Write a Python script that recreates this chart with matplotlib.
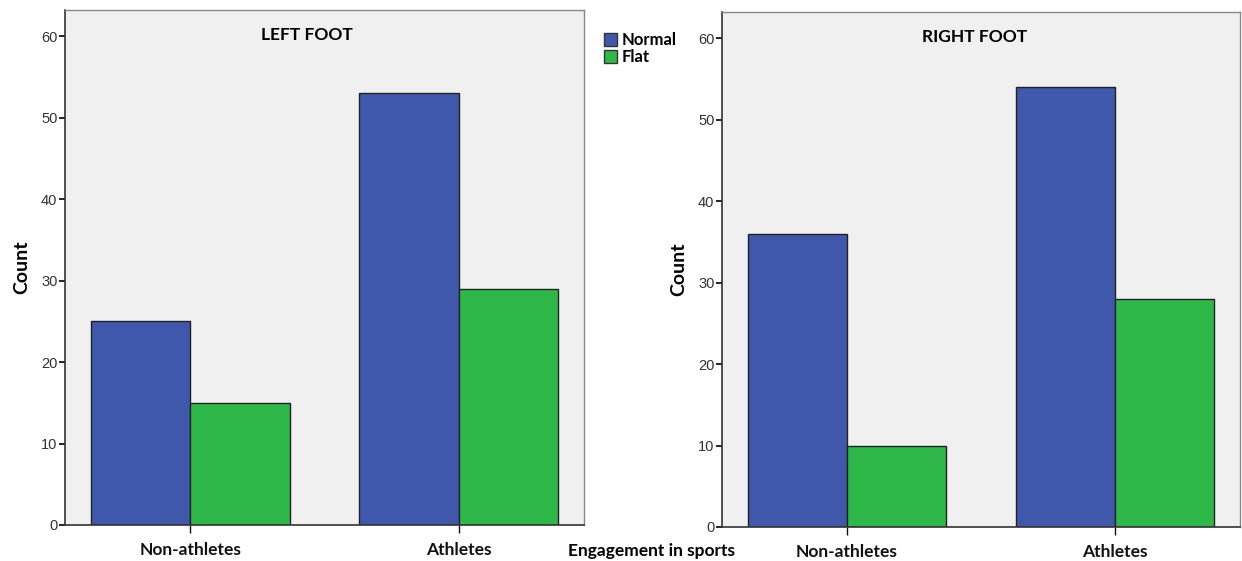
import matplotlib.pyplot as plt
import numpy as np
from matplotlib.patches import Patch

# Data
groups = ['Non-athletes', 'Athletes']
left_normal = [25, 53]
left_flat = [15, 29]
right_normal = [36, 54]
right_flat = [10, 28]

blue = '#3F58AB'
green = '#2EB84A'
bg = '#F0F0F0'
label_font = ['Lato', 'DejaVu Sans']
plt.rcParams['font.family'] = ['Liberation Sans', 'DejaVu Sans']

fig = plt.figure(figsize=(12.42, 5.61), dpi=100)
ax1 = fig.add_axes([65 / 1242, 1 - 525 / 561, 519 / 1242, 515 / 561])
ax2 = fig.add_axes([722 / 1242, 1 - 527 / 561, 518 / 1242, 515 / 561])


def draw_panel(ax, normal, flat, title, tx):
    x = np.arange(len(groups))
    w = 0.37
    ax.bar(x - w / 2, normal, w, color=blue, edgecolor='#222222', linewidth=1)
    ax.bar(x + w / 2, flat, w, color=green, edgecolor='#222222', linewidth=1)
    ax.set_facecolor(bg)
    ax.set_xlim(-0.466, 1.466)
    ax.set_ylim(0, 63.2)
    ax.set_yticks([0, 10, 20, 30, 40, 50, 60])
    ax.set_xticks(x)
    ax.set_xticklabels(groups, fontsize=12.5, fontweight='bold', family=label_font)
    ax.tick_params(axis='x', length=6, width=1, pad=6, colors='#111111')
    ax.tick_params(axis='y', length=4.5, width=1.2, labelsize=10.5, labelcolor='#333333', pad=1)
    for s in ['left', 'bottom']:
        ax.spines[s].set_color('#333333')
        ax.spines[s].set_linewidth(1.2)
    for s in ['top', 'right']:
        ax.spines[s].set_color('#888888')
        ax.spines[s].set_linewidth(1)
    ax.set_ylabel('Count', fontsize=14, fontweight='bold', family=label_font, labelpad=8)
    ax.text(tx, 0.951, title, transform=ax.transAxes, ha='center', va='center',
            fontsize=12.5, fontweight='bold', family=label_font)


draw_panel(ax1, left_normal, left_flat, 'LEFT FOOT', 0.466)
draw_panel(ax2, right_normal, right_flat, 'RIGHT FOOT', 0.488)

fig.text(651 / 1242, 1 - 551 / 561, 'Engagement in sports', ha='center', va='center',
         fontsize=12.5, fontweight='bold', family=label_font)

handles = [Patch(facecolor=blue, edgecolor='#333333', label='Normal'),
           Patch(facecolor=green, edgecolor='#333333', label='Flat')]
fig.legend(handles=handles, loc='upper left', bbox_to_anchor=(596 / 1242, 1 - 24 / 561),
           frameon=False, handlelength=0.75, handleheight=0.8, handletextpad=0.3,
           labelspacing=0.05, borderpad=0, prop={'family': label_font, 'weight': 'bold', 'size': 12})

fig.savefig('out.png', dpi=100)
